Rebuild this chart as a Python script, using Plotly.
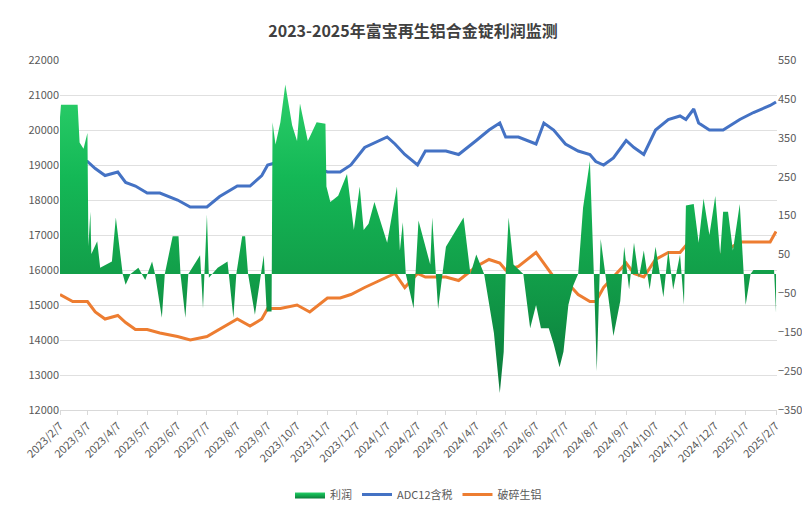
import plotly.graph_objects as go
import pandas as pd

adc_dates = ["2023-02-07","2023-02-20","2023-03-07","2023-03-15","2023-03-25","2023-04-07","2023-04-15","2023-04-25","2023-05-07","2023-05-20","2023-06-07","2023-06-20","2023-07-07","2023-07-20","2023-08-07","2023-08-20","2023-09-01","2023-09-07","2023-09-20","2023-10-07","2023-10-20","2023-11-07","2023-11-20","2023-12-01","2023-12-15","2024-01-07","2024-01-15","2024-01-25","2024-02-07","2024-02-15","2024-03-07","2024-03-20","2024-04-07","2024-04-20","2024-05-01","2024-05-07","2024-05-20","2024-06-07","2024-06-15","2024-06-25","2024-07-07","2024-07-20","2024-08-01","2024-08-07","2024-08-15","2024-08-25","2024-09-07","2024-09-15","2024-09-25","2024-10-07","2024-10-20","2024-11-01","2024-11-07","2024-11-15","2024-11-20","2024-12-01","2024-12-15","2025-01-01","2025-01-15","2025-02-01","2025-02-07"]
adc_vals = [19400,19100,19100,18900,18700,18800,18500,18400,18200,18200,18000,17800,17800,18100,18400,18400,18700,19000,19100,19200,19000,18800,18800,19000,19500,19800,19600,19300,19000,19400,19400,19300,19700,20000,20200,19800,19800,19600,20200,20000,19600,19400,19300,19100,19000,19200,19700,19500,19300,20000,20300,20400,20300,20600,20200,20000,20000,20300,20500,20700,20800]
scrap_vals = [15300,15100,15100,14800,14600,14700,14500,14300,14300,14200,14100,14000,14100,14300,14600,14400,14600,14900,14900,15000,14800,15200,15200,15300,15500,15800,15900,15500,15900,15800,15800,15700,16100,16300,16200,16000,16100,16500,16200,15800,15700,15300,15100,15100,15500,15800,16200,15900,15800,16300,16500,16500,16700,16200,16100,16100,16500,16800,16800,16800,17100]

profit_dates = ["2023-02-07","2023-02-08","2023-02-10","2023-02-25","2023-02-27","2023-03-03","2023-03-07","2023-03-08","2023-03-10","2023-03-11","2023-03-17","2023-03-20","2023-04-01","2023-04-05","2023-04-12","2023-04-15","2023-04-20","2023-04-28","2023-05-05","2023-05-12","2023-05-15","2023-05-22","2023-05-25","2023-06-02","2023-06-08","2023-06-10","2023-06-15","2023-06-18","2023-06-30","2023-07-03","2023-07-07","2023-07-09","2023-07-18","2023-07-28","2023-08-03","2023-08-06","2023-08-12","2023-08-15","2023-08-18","2023-08-25","2023-09-03","2023-09-06","2023-09-11","2023-09-12","2023-09-15","2023-09-20","2023-09-25","2023-10-02","2023-10-07","2023-10-10","2023-10-18","2023-10-27","2023-11-05","2023-11-06","2023-11-10","2023-11-18","2023-11-27","2023-12-04","2023-12-10","2023-12-14","2023-12-19","2023-12-25","2024-01-07","2024-01-17","2024-01-20","2024-01-23","2024-01-26","2024-02-03","2024-02-08","2024-02-20","2024-02-22","2024-02-28","2024-03-07","2024-03-15","2024-03-25","2024-04-01","2024-04-07","2024-04-15","2024-04-20","2024-04-25","2024-05-01","2024-05-05","2024-05-07","2024-05-10","2024-05-15","2024-05-25","2024-06-01","2024-06-07","2024-06-12","2024-06-20","2024-06-25","2024-07-01","2024-07-05","2024-07-10","2024-07-15","2024-07-20","2024-07-25","2024-08-01","2024-08-05","2024-08-08","2024-08-12","2024-08-20","2024-08-25","2024-09-01","2024-09-05","2024-09-10","2024-09-15","2024-09-20","2024-09-25","2024-10-01","2024-10-07","2024-10-15","2024-10-20","2024-10-25","2024-11-01","2024-11-05","2024-11-07","2024-11-15","2024-11-20","2024-11-25","2024-12-01","2024-12-07","2024-12-12","2024-12-15","2024-12-20","2024-12-25","2025-01-01","2025-01-05","2025-01-07","2025-01-12","2025-01-15","2025-02-05","2025-02-07"]
profit_vals = [403,435,435,435,338,322,362,72,160,51,84,16,32,145,0,-28,0,16,-16,32,0,-113,0,97,97,0,-113,0,48,-89,153,-10,16,32,-113,0,97,97,0,-105,48,-97,-97,390,333,390,487,382,342,438,342,390,386,225,185,201,257,113,225,113,129,185,80,225,60,133,0,-89,137,24,145,-90,70,104,145,0,50,0,-80,-152,-306,-200,0,145,24,0,-140,-80,-140,-140,-180,-240,-200,-80,-30,0,170,290,0,-250,90,-60,-160,-70,70,-40,80,-10,60,-40,70,-60,60,-40,50,-80,176,180,80,194,100,200,50,160,160,60,180,0,-80,0,10,10,-100]

months = [pd.Timestamp("2023-02-07") + pd.DateOffset(months=i) for i in range(25)]
tick_text = [f"{d.year}/{d.month}/7" for d in months]

fig = go.Figure()
fig.add_trace(go.Scatter(x=pd.to_datetime(profit_dates), y=profit_vals, name="利润", yaxis="y2",
    mode="lines", line=dict(width=0, color="#12b04a"), fill="tozeroy",
    fillgradient=dict(type="vertical", colorscale=[[0, "#0b7a3b"], [0.4, "#12a04a"], [0.7, "#14b856"], [1, "#2ccf6a"]])))
fig.add_trace(go.Scatter(x=pd.to_datetime(adc_dates), y=adc_vals, name="ADC12含税", mode="lines",
    line=dict(color="#4472C4", width=3)))
fig.add_trace(go.Scatter(x=pd.to_datetime(adc_dates), y=scrap_vals, name="破碎生铝", mode="lines",
    line=dict(color="#ED7D31", width=3)))

fig.update_layout(
    width=810, height=513, paper_bgcolor="white", plot_bgcolor="white",
    margin=dict(l=52, r=41, t=52, b=88),
    font=dict(family="Noto Sans CJK SC", size=11, color="#595959"),
    title=dict(text="<b>2023-2025年富宝再生铝合金锭利润监测</b>", x=0.5, y=0.965, font=dict(size=16, color="#404040")),
    xaxis=dict(range=["2023-02-07", "2025-02-08"], tickvals=months, ticktext=tick_text, tickangle=-45,
               showgrid=False, showline=True, linecolor="#d9d9d9", ticks="outside", tickcolor="#d9d9d9", ticklen=4),
    yaxis=dict(range=[12000, 22000], dtick=1000, gridcolor="#e0e0e0", zeroline=False, tickformat="d"),
    yaxis2=dict(range=[-350, 550], tickvals=list(range(-350, 551, 100)), overlaying="y", side="right",
                showgrid=False, zeroline=False),
    legend=dict(orientation="h", x=0.5, xanchor="center", y=-0.2, yanchor="top", font=dict(size=11)),
    showlegend=True,
)
fig.write_html("out.html")
